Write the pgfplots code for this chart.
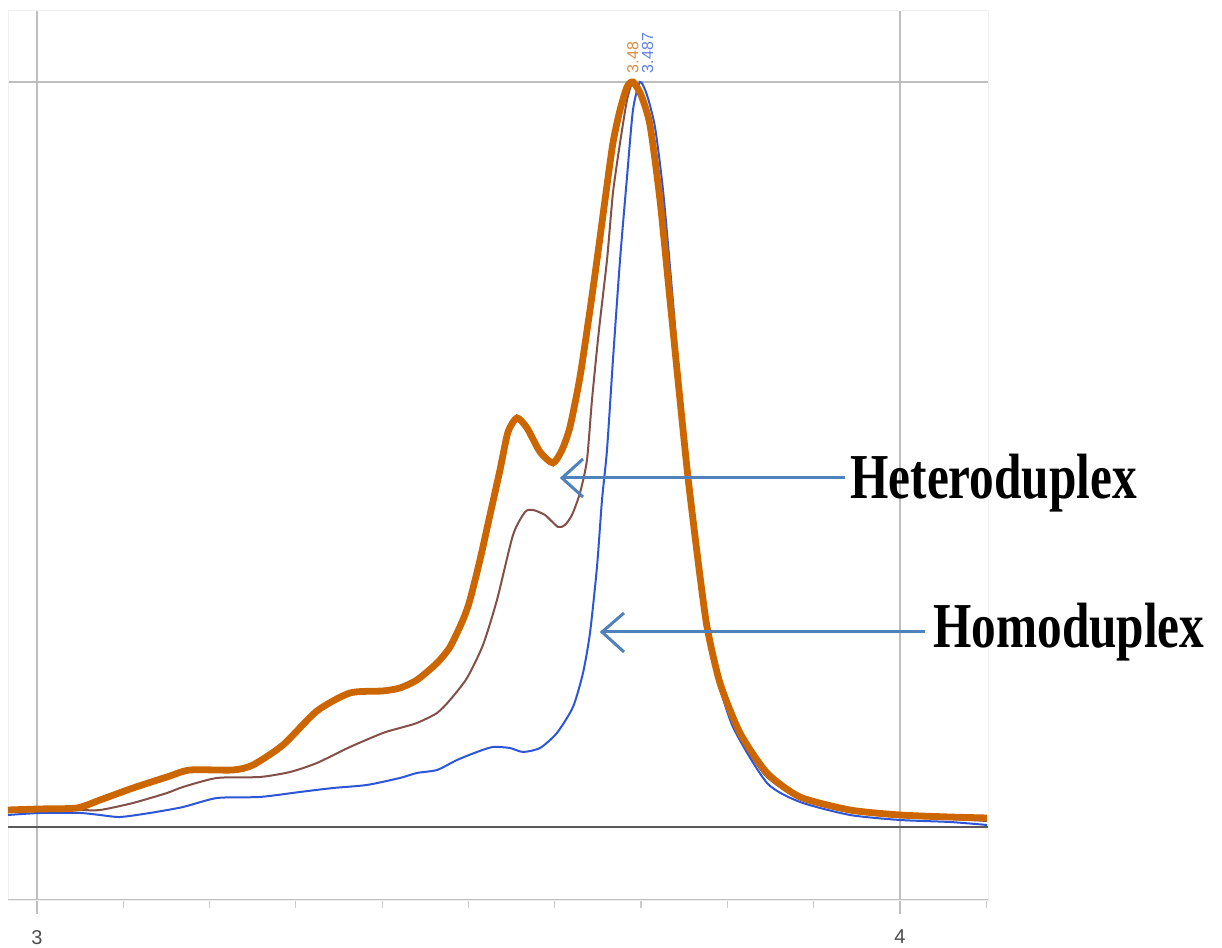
\documentclass[border=0pt]{standalone}
\usepackage{pgfplots}
\pgfplotsset{compat=1.18}
\usepackage{fontspec}
\setmainfont{Liberation Serif}
\newfontfamily\labelfont{Liberation Sans}

\definecolor{hetero}{RGB}{204,102,0}
\definecolor{mixed}{RGB}{130,80,70}
\definecolor{homo}{RGB}{45,85,215}
\definecolor{arrowblue}{RGB}{79,129,189}
\definecolor{gridgray}{RGB}{190,190,190}

\begin{document}
\begin{tikzpicture}
\useasboundingbox (0pt,0pt) rectangle (611pt,474pt);
\begin{axis}[
  at={(4pt,24pt)}, anchor=south west,
  scale only axis, width=490pt, height=445pt,
  xmin=2.9664, xmax=4.102, ymin=-0.098, ymax=1.0966,
  axis line style={draw=black!6},
  xtick={3,4}, xticklabels={3,4},
  minor xtick={3.1,3.2,3.3,3.4,3.5,3.6,3.7,3.8,3.9,4.1},
  xtick pos=left,
  tick align=outside,
  major tick length=7pt, minor tick length=4pt,
  x tick style={draw=gridgray, line width=0.8pt},
  minor x tick style={draw=gridgray!80, line width=0.6pt},
  xmajorgrids, grid style={draw=gridgray, line width=0.9pt},
  xticklabel style={font=\labelfont\fontsize{10}{12}\selectfont, text=black!70, yshift=-4.5pt},
  ytick={1}, yticklabels={}, y tick style={draw=none},
  ymajorgrids,
  extra y ticks={0}, extra y tick labels={},
  extra y tick style={grid=major, grid style={draw=black!65, line width=1pt}, tick style={draw=none}},
  clip=true,
]
% bottom frame line
\draw[gridgray, line width=0.8pt] (rel axis cs:0,0) -- (rel axis cs:1,0);

% homoduplex trace
\addplot[homo, line width=1pt, smooth, tension=0.4] coordinates {
(2.9664,0.0161) (3.0035,0.0188) (3.0498,0.0188) (3.0730,0.0161) (3.0962,0.0134)
(3.1309,0.0188) (3.1692,0.0268) (3.2086,0.0389) (3.2584,0.0403) (3.3048,0.0470)
(3.3430,0.0523) (3.3824,0.0564) (3.4206,0.0658) (3.4403,0.0725) (3.4635,0.0765)
(3.4867,0.0899) (3.5099,0.1007) (3.5284,0.1074) (3.5481,0.1060) (3.5632,0.1007)
(3.5829,0.1060) (3.6025,0.1262) (3.6211,0.1611) (3.6327,0.2067) (3.6408,0.2604)
(3.6489,0.3490) (3.6547,0.4389) (3.6605,0.5060) (3.6674,0.6268) (3.6756,0.7611)
(3.6837,0.8725) (3.6906,0.9624) (3.6987,1.0000) (3.7068,0.9826) (3.7161,0.9396)
(3.7254,0.8550) (3.7358,0.7208) (3.7462,0.5732) (3.7543,0.4698) (3.7636,0.3718)
(3.7740,0.2779) (3.7856,0.2107) (3.8065,0.1342) (3.8459,0.0591) (3.8841,0.0336)
(3.9421,0.0161) (4.0000,0.0094) (4.0579,0.0067) (4.1008,0.0027)
};

% mixed trace
\addplot[mixed, line width=1pt, smooth, tension=0.4] coordinates {
(2.9664,0.0201) (3.0035,0.0215) (3.0463,0.0228) (3.0730,0.0228) (3.1112,0.0322)
(3.1506,0.0456) (3.1692,0.0537) (3.2086,0.0658) (3.2584,0.0671) (3.2932,0.0738)
(3.3244,0.0859) (3.3627,0.1074) (3.4009,0.1262) (3.4206,0.1329) (3.4403,0.1396)
(3.4635,0.1530) (3.4786,0.1705) (3.4983,0.2000) (3.5168,0.2443) (3.5330,0.3047)
(3.5516,0.3919) (3.5655,0.4228) (3.5747,0.4255) (3.5886,0.4188) (3.6037,0.4027)
(3.6118,0.4054) (3.6199,0.4188) (3.6292,0.4483) (3.6373,0.4926) (3.6431,0.5732)
(3.6512,0.6671) (3.6605,0.7611) (3.6674,0.8510) (3.6756,0.9181) (3.6837,0.9758)
(3.6906,1.0000) (3.6999,0.9852) (3.7126,0.9396) (3.7231,0.8416) (3.7335,0.7074)
(3.7451,0.5732) (3.7543,0.4698) (3.7648,0.3584) (3.7752,0.2685) (3.7903,0.1933)
(3.8123,0.1262) (3.8436,0.0698) (3.8841,0.0376) (3.9421,0.0201) (4.0000,0.0134)
(4.0579,0.0107) (4.1008,0.0081)
};

% heteroduplex trace
\addplot[hetero, line width=3.4pt, smooth, tension=0.4] coordinates {
(2.9664,0.0228) (3.0035,0.0242) (3.0463,0.0255) (3.0730,0.0362) (3.1112,0.0523)
(3.1506,0.0671) (3.1773,0.0765) (3.2271,0.0765) (3.2503,0.0832) (3.2851,0.1101)
(3.3244,0.1557) (3.3627,0.1799) (3.4009,0.1826) (3.4206,0.1866) (3.4403,0.1973)
(3.4635,0.2201) (3.4786,0.2416) (3.4936,0.2779) (3.5017,0.3047) (3.5133,0.3584)
(3.5249,0.4188) (3.5365,0.4792) (3.5458,0.5302) (3.5562,0.5490) (3.5678,0.5356)
(3.5829,0.5034) (3.5979,0.4886) (3.6083,0.5060) (3.6176,0.5369) (3.6292,0.6040)
(3.6408,0.6940) (3.6489,0.7611) (3.6582,0.8416) (3.6674,0.9181) (3.6756,0.9624)
(3.6837,0.9933) (3.6906,1.0000) (3.6999,0.9826) (3.7103,0.9423) (3.7219,0.8416)
(3.7335,0.7074) (3.7451,0.5732) (3.7543,0.4698) (3.7659,0.3584) (3.7764,0.2685)
(3.7914,0.1933) (3.8146,0.1262) (3.8459,0.0725) (3.8841,0.0403) (3.9421,0.0228)
(4.0000,0.0161) (4.0579,0.0134) (4.1008,0.0121)
};

% peak labels
\node[rotate=90, anchor=west, inner sep=0.5pt, text=hetero!75,
      font=\labelfont\fontsize{8}{9}\selectfont] at (axis cs:3.6906,1.01) {3.48};
\node[rotate=90, anchor=west, inner sep=0.5pt, text=homo!75,
      font=\labelfont\fontsize{8}{9}\selectfont] at (axis cs:3.7075,1.01) {3.487};
\end{axis}

% annotation arrows
\draw[arrowblue, line width=1.5pt] (422.5pt,235pt) -- (281pt,235pt);
\draw[arrowblue, line width=1.5pt] (291.5pt,244.5pt) -- (281pt,235pt) -- (291.5pt,225.5pt);
\draw[arrowblue, line width=1.5pt] (462.5pt,158pt) -- (301pt,158pt);
\draw[arrowblue, line width=1.5pt] (312pt,167.5pt) -- (301pt,158pt) -- (312pt,148pt);

\node[anchor=base west, inner sep=0pt] at (425pt,224.5pt)
  {\scalebox{0.77}[1]{\fontsize{32}{36}\selectfont\bfseries Heteroduplex}};
\node[anchor=base west, inner sep=0pt] at (466.5pt,150pt)
  {\scalebox{0.77}[1]{\fontsize{32}{36}\selectfont\bfseries Homoduplex}};
\end{tikzpicture}
\end{document}
